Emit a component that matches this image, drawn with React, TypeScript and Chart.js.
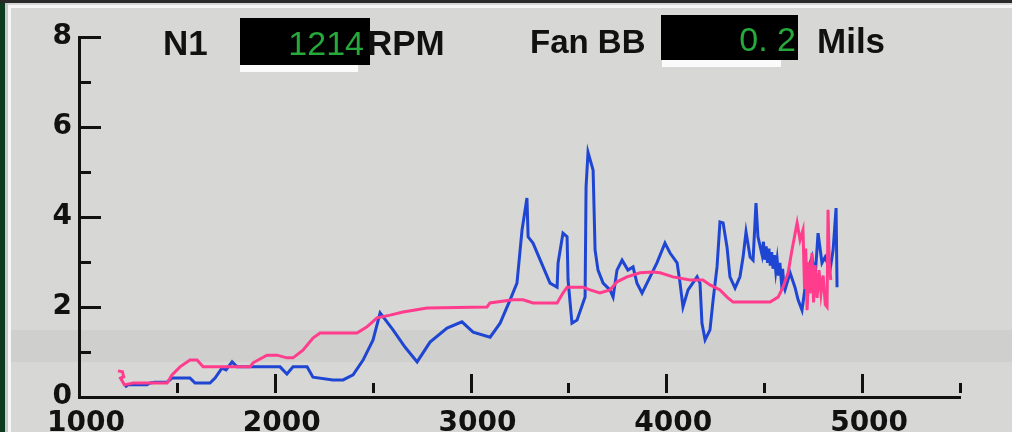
import React, { useEffect, useRef } from "react";
import { Chart, registerables } from "chart.js";

Chart.register(...registerables);

// ---- data ----
const blueRpm = [
  1235, 1250, 1347, 1363, 1388, 1450, 1475, 1567, 1593, 1669, 1695, 1730, 1751, 1782, 1807, 1899, 2027, 2062, 2093, 2165,
  2195, 2297, 2349, 2400, 2451, 2502, 2538, 2604, 2665, 2727, 2793, 2880, 2956, 3013, 3100, 3151, 3202, 3237, 3263, 3288,
  3294, 3319, 3406, 3442, 3447, 3472, 3493, 3498, 3518, 3544, 3585, 3590, 3600, 3626, 3636, 3651, 3677, 3712, 3728, 3748,
  3774, 3804, 3830, 3850, 3876, 3917, 3952, 3993, 4019, 4055, 4070, 4085, 4111, 4157, 4172, 4182, 4198, 4223, 4239, 4259,
  4274, 4290, 4310, 4325, 4351, 4376, 4392, 4407, 4428, 4443, 4458, 4468,
  4489, 4496, 4503, 4510, 4517, 4524, 4531, 4538, 4545, 4552, 4559, 4566, 4573, 4580, 4587, 4594, 4601, 4606,
  4632, 4657, 4673, 4693, 4719, 4744, 4760, 4775, 4795, 4811, 4836, 4852, 4867, 4872,
];
const blueMils = [
  0.22, 0.27, 0.27, 0.31, 0.33, 0.33, 0.42, 0.42, 0.31, 0.31, 0.42, 0.64, 0.6, 0.78, 0.67, 0.67, 0.67, 0.51, 0.67, 0.67,
  0.44, 0.38, 0.38, 0.49, 0.82, 1.27, 1.87, 1.49, 1.11, 0.78, 1.22, 1.53, 1.67, 1.44, 1.33, 1.64, 2.16, 2.53, 3.71, 4.42,
  3.56, 3.42, 2.53, 2.44, 2.98, 3.64, 3.56, 2.6, 1.64, 1.71, 2.22, 4.67, 5.44, 5.04, 3.27, 2.82, 2.53, 2.38, 2.22, 2.82,
  3.04, 2.82, 2.89, 2.53, 2.31, 2.67, 2.98, 3.42, 3.2, 2.98, 2.53, 2.0, 2.38, 2.67, 2.53, 1.64, 1.27, 1.49, 2.16, 2.89,
  3.89, 3.87, 3.33, 2.67, 2.42, 2.67, 3.11, 3.67, 3.11, 3.04, 4.31, 3.56,
  3.16, 3.45, 3.05, 3.35, 2.98, 3.3, 2.92, 3.22, 2.85, 3.15, 2.8, 3.05, 2.7, 2.98, 2.6, 2.85, 2.45, 2.38,
  2.76, 2.44, 2.16, 1.93, 2.76, 3.11, 2.67, 3.64, 2.98, 3.11, 2.82, 3.27, 4.2, 2.44,
];

const pinkRpm = [
  1199, 1222, 1228, 1212, 1232, 1276, 1363, 1450, 1475, 1516, 1567, 1603, 1634, 1874, 1889, 1960, 2011, 2062, 2093, 2144,
  2195, 2231, 2420, 2471, 2522, 2589, 2655, 2778, 3084, 3099, 3217, 3268, 3319, 3442, 3472, 3493, 3574, 3610, 3661, 3712,
  3748, 3799, 3866, 3932, 3968, 4034, 4121, 4187, 4223, 4274, 4310, 4341, 4530, 4571, 4596, 4622, 4642, 4668, 4683, 4698,
  4706, 4712, 4719, 4729, 4734, 4744, 4752, 4760, 4770, 4780, 4790, 4801, 4812, 4821, 4826, 4832, 4840,
];
const pinkMils = [
  0.58, 0.56, 0.45, 0.42, 0.27, 0.31, 0.31, 0.31, 0.49, 0.67, 0.82, 0.82, 0.67, 0.67, 0.76, 0.93, 0.93, 0.87, 0.87, 1.04,
  1.31, 1.42, 1.42, 1.56, 1.76, 1.82, 1.89, 1.98, 2.0, 2.09, 2.16, 2.16, 2.09, 2.09, 2.31, 2.44, 2.44, 2.38, 2.31, 2.38,
  2.56, 2.67, 2.76, 2.78, 2.76, 2.67, 2.6, 2.6, 2.49, 2.38, 2.22, 2.11, 2.11, 2.22, 2.44, 2.76, 3.27, 3.87, 3.49, 3.71,
  2.4, 3.3, 1.93, 3.0, 2.3, 3.2, 2.1, 2.93, 2.2, 2.82, 2.3, 2.7, 2.05, 2.0, 4.16, 3.0, 2.6,
];

const xTickValues = [1000, 1500, 2000, 2500, 3000, 3500, 4000, 4500, 5000, 5500];
const xTickLabels = ["1000", "", "2000", "", "3000", "", "4000", "", "5000", ""];
const yTickValues = [0, 1, 2, 3, 4, 5, 6, 7, 8];
const yTickLabels = ["0", "", "2", "", "4", "", "6", "", "8"];

const n1Label = "N1";
const n1Value = "1214";
const n1Unit = "RPM";
const fanLabel = "Fan BB";
const fanValue = "0. 2";
const fanUnit = "Mils";

const X_MIN = 1000;
const X_MAX = 5500;
const Y_MIN = 0;
const Y_MAX = 8;

const BG = "#d7d7d5";
const INK = "#111111";
const GREEN = "#26a83a";

const framePlugin = {
  id: "frame",
  beforeDraw(chart: any) {
    const ctx = chart.ctx;
    const w = chart.width;
    const h = chart.height;
    ctx.save();
    ctx.fillStyle = BG;
    ctx.fillRect(0, 0, w, h);
    ctx.fillStyle = "#cfcfcd";
    ctx.fillRect(0, 330, w, 32);
    // left border
    ctx.fillStyle = "#0e3a20";
    ctx.fillRect(0, 0, 5, h);
    ctx.fillStyle = "#c8c8c8";
    ctx.fillRect(5, 0, 3, h);
    ctx.fillStyle = "#f6f6f6";
    ctx.fillRect(8, 6, 3, h - 6);
    // top border
    ctx.fillStyle = "#2a2a2a";
    ctx.fillRect(0, 0, w, 3);
    ctx.fillStyle = "#f6f6f6";
    ctx.fillRect(8, 5, w - 8, 3);
    ctx.restore();
  },
  afterDraw(chart: any) {
    const ctx = chart.ctx;
    const xs = chart.scales.x;
    const ys = chart.scales.y;
    const axisY = ys.getPixelForValue(Y_MIN);
    const axisX = xs.getPixelForValue(X_MIN);
    ctx.save();
    ctx.fillStyle = INK;
    // inward x ticks
    xTickValues.forEach((v, i) => {
      if (v === X_MIN) return;
      const px = Math.round(xs.getPixelForValue(v));
      const len = xTickLabels[i] ? 19 : 10;
      ctx.fillRect(px - 1, axisY - 4 - len, 3, len);
    });
    // inward y ticks
    yTickValues.forEach((v, i) => {
      if (v === Y_MIN) return;
      const py = Math.round(ys.getPixelForValue(v));
      const len = yTickLabels[i] ? 22 : 12;
      ctx.fillRect(axisX, py - 1, len, 3);
    });

    // header readouts
    ctx.fillStyle = "#000";
    ctx.fillRect(240, 18, 130, 47);
    ctx.fillRect(661, 15, 137, 45);
    ctx.fillStyle = "#fbfbfb";
    ctx.fillRect(240, 65, 118, 7);
    ctx.fillRect(662, 60, 119, 7);

    ctx.textBaseline = "alphabetic";
    ctx.font = 'bold 35px "Liberation Sans", Arial, sans-serif';
    ctx.fillStyle = INK;
    ctx.textAlign = "left";
    ctx.fillText(n1Label, 163, 55);
    ctx.font = 'bold 33px "Liberation Sans", Arial, sans-serif';
    ctx.fillText(fanLabel, 530, 53);
    ctx.font = 'bold 35px "Liberation Sans", Arial, sans-serif';
    ctx.fillText(fanUnit, 817, 53);

    ctx.font = '34px "Liberation Sans", Arial, sans-serif';
    ctx.fillStyle = GREEN;
    ctx.textAlign = "right";
    ctx.fillText(n1Value, 364, 55);
    ctx.fillText(fanValue, 796, 51);

    ctx.font = 'bold 35px "Liberation Sans", Arial, sans-serif';
    ctx.fillStyle = INK;
    ctx.textAlign = "left";
    ctx.fillText(n1Unit, 367, 55);
    ctx.restore();
  },
};

export default function App() {
  const canvasRef = useRef<HTMLCanvasElement | null>(null);

  useEffect(() => {
    const canvas = canvasRef.current;
    if (!canvas) return;
    const tickFont = { family: '"DejaVu Sans", sans-serif', size: 28, weight: "bold" as const };
    const chart = new Chart(canvas, {
      type: "scatter",
      data: {
        datasets: [
          {
            label: "pink",
            data: pinkRpm.map((x, i) => ({ x, y: pinkMils[i] })),
            showLine: true,
            borderColor: "#ff3d8c",
            borderWidth: 3,
            pointRadius: 0,
            tension: 0,
          },
          {
            label: "blue",
            data: blueRpm.map((x, i) => ({ x, y: blueMils[i] })),
            showLine: true,
            borderColor: "#1f46d2",
            borderWidth: 3,
            pointRadius: 0,
            tension: 0,
          },
        ],
      },
      options: {
        animation: false,
        responsive: true,
        maintainAspectRatio: false,
        devicePixelRatio: 1,
        layout: { padding: { left: 0, right: 52, top: 37, bottom: 0 } },
        plugins: {
          legend: { display: false },
          tooltip: { enabled: false },
          title: { display: false },
        },
        scales: {
          x: {
            type: "linear",
            min: X_MIN,
            max: X_MAX,
            afterFit: (s: any) => {
              s.height = 35;
            },
            afterBuildTicks: (s: any) => {
              s.ticks = xTickValues.map((v) => ({ value: v }));
            },
            grid: { display: false, drawTicks: false },
            border: { display: true, color: INK, width: 3 },
            ticks: {
              autoSkip: false,
              maxRotation: 0,
              padding: 10,
              labelOffset: 7,
              color: INK,
              font: tickFont,
              callback: (v: any) => xTickLabels[xTickValues.indexOf(Number(v))] ?? "",
            },
          },
          y: {
            type: "linear",
            min: Y_MIN,
            max: Y_MAX,
            afterFit: (s: any) => {
              s.width = 79;
            },
            afterBuildTicks: (s: any) => {
              s.ticks = yTickValues.map((v) => ({ value: v }));
            },
            grid: { display: false, drawTicks: false },
            border: { display: true, color: INK, width: 3 },
            ticks: {
              autoSkip: false,
              padding: 7,
              color: INK,
              font: tickFont,
              callback: (v: any) => yTickLabels[yTickValues.indexOf(Number(v))] ?? "",
            },
          },
        },
      },
      plugins: [framePlugin],
    });
    return () => chart.destroy();
  }, []);

  return (
    <div style={{ position: "fixed", left: 0, top: 0, width: 1012, height: 432, overflow: "hidden" }}>
      <canvas ref={canvasRef} />
    </div>
  );
}
